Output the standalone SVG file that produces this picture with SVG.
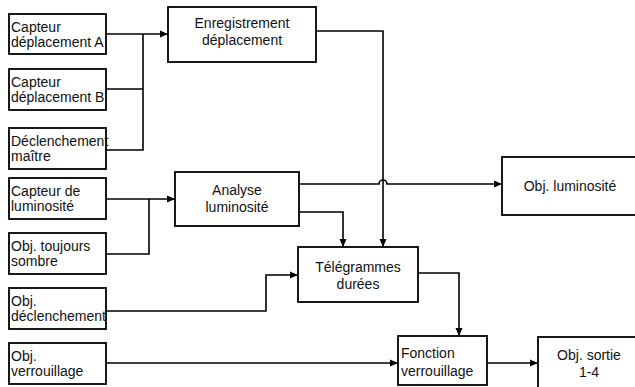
<svg xmlns="http://www.w3.org/2000/svg" width="635" height="387" viewBox="0 0 635 387">
<style>
.box{fill:#fff;stroke:#000;stroke-width:1.8}
.ln{fill:none;stroke:#000;stroke-width:1.6}
text{font-family:"Liberation Sans",Arial,sans-serif;font-size:14px;fill:#111}
.c{text-anchor:middle}
</style>
<defs>
<marker id="ah" viewBox="0 0 8 8" refX="8" refY="4" markerWidth="8" markerHeight="8" markerUnits="userSpaceOnUse" orient="auto">
<path d="M0,0.5 L8,4 L0,7.5 Z" fill="#000"/>
</marker>
</defs>
<g id="connectors">
<path class="ln" d="M106,34 H168" marker-end="url(#ah)"/>
<path class="ln" d="M106,89 H143 M106,150 H143 V34"/>
<path class="ln" d="M106,199 H175" marker-end="url(#ah)"/>
<path class="ln" d="M106,254 H149 V199"/>
<path class="ln" d="M316,31 H383 V247" marker-end="url(#ah)"/>
<path class="ln" d="M299,184 H379 A4,4 0 0 1 387,184 H502" marker-end="url(#ah)"/>
<path class="ln" d="M299,212 H343 V247" marker-end="url(#ah)"/>
<path class="ln" d="M106,311 H266 V275 H298" marker-end="url(#ah)"/>
<path class="ln" d="M418,273 H459 V336" marker-end="url(#ah)"/>
<path class="ln" d="M106,363 H398" marker-end="url(#ah)"/>
<path class="ln" d="M487,363 H538" marker-end="url(#ah)"/>
</g>
<g id="capteur-a"><rect class="box" x="9" y="14" width="97" height="40"/><text x="11" y="32">Capteur</text><text x="11" y="47">déplacement A</text></g>
<g id="capteur-b"><rect class="box" x="9" y="69" width="97" height="41"/><text x="11" y="87">Capteur</text><text x="11" y="102">déplacement B</text></g>
<g id="declenchement-maitre"><rect class="box" x="9" y="128" width="97" height="41"/><text x="11" y="146">Déclenchement</text><text x="11" y="161">maître</text></g>
<g id="capteur-lum"><rect class="box" x="9" y="178" width="97" height="41"/><text x="11" y="196">Capteur de</text><text x="11" y="211">luminosité</text></g>
<g id="obj-sombre"><rect class="box" x="9" y="233" width="97" height="41"/><text x="11" y="251">Obj. toujours</text><text x="11" y="266">sombre</text></g>
<g id="obj-declenchement"><rect class="box" x="9" y="288" width="97" height="41"/><text x="11" y="306">Obj.</text><text x="11" y="321">déclenchement</text></g>
<g id="obj-verrouillage"><rect class="box" x="9" y="343" width="97" height="41"/><text x="11" y="361">Obj.</text><text x="11" y="376">verrouillage</text></g>
<g id="enregistrement"><rect class="box" x="168" y="7" width="148" height="55"/><text class="c" x="242" y="28">Enregistrement</text><text class="c" x="242" y="45">déplacement</text></g>
<g id="analyse"><rect class="box" x="175" y="172" width="124" height="54"/><text class="c" x="237" y="195">Analyse</text><text class="c" x="237" y="212">luminosité</text></g>
<g id="telegrammes"><rect class="box" x="298" y="247" width="120" height="55"/><text class="c" x="358" y="272">Télégrammes</text><text class="c" x="358" y="289">durées</text></g>
<g id="fonction"><rect class="box" x="398" y="336" width="89" height="49"/><text x="401" y="358">Fonction</text><text x="401" y="376">verrouillage</text></g>
<g id="obj-luminosite"><rect class="box" x="502" y="157" width="140" height="58"/><text class="c" x="570" y="191">Obj. luminosité</text></g>
<g id="obj-sortie"><rect class="box" x="538" y="337" width="104" height="60"/><text class="c" x="589" y="360">Obj. sortie</text><text class="c" x="589" y="377">1-4</text></g>
</svg>
